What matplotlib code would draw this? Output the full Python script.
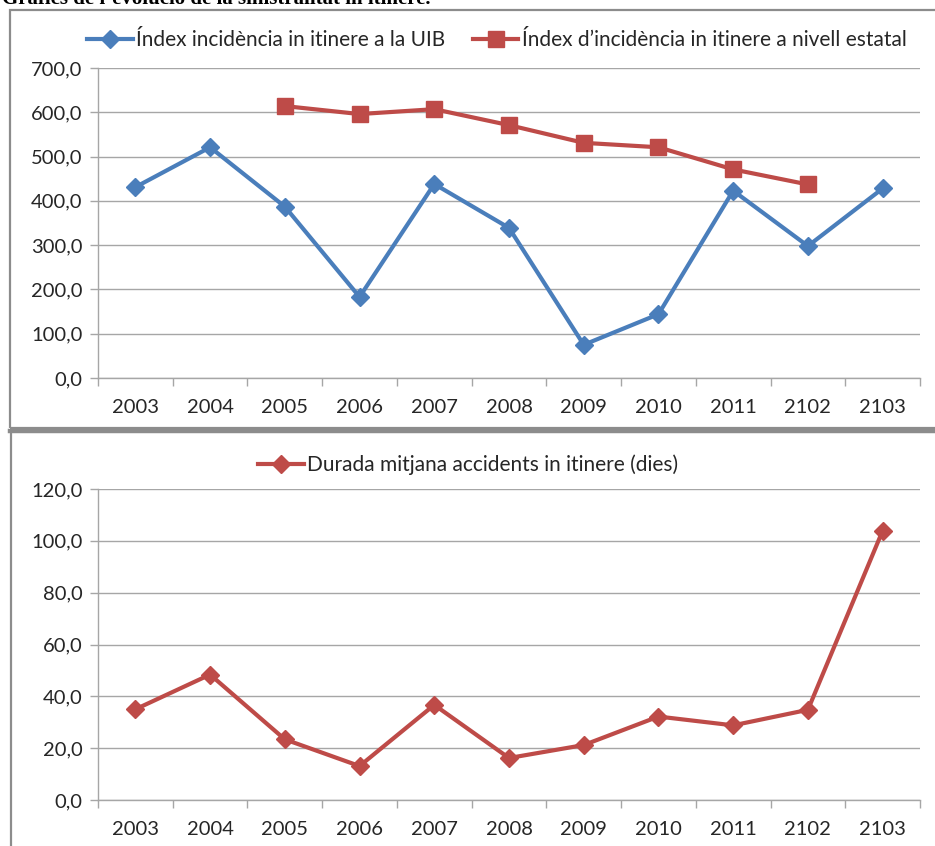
import matplotlib
matplotlib.use("Agg")
import matplotlib.pyplot as plt
from matplotlib.patches import Rectangle
from matplotlib.lines import Line2D
from matplotlib.ticker import FuncFormatter, FixedLocator

W, H = 935, 846

years = ['2003', '2004', '2005', '2006', '2007', '2008', '2009', '2010', '2011', '2102', '2103']
uib = [431, 521, 387, 183, 438, 339, 75, 144, 423, 298, 428]
estatal = [None, None, 614, 596, 607, 571, 531, 521, 471, 437, None]
durada = [35.0, 48.4, 23.4, 13.1, 36.7, 16.2, 21.2, 32.2, 28.8, 34.8, 103.9]

lbl_uib = 'Índex incidència in itinere a la UIB'
lbl_est = 'Índex d’incidència in itinere a nivell estatal'
lbl_dur = 'Durada mitjana accidents in itinere (dies)'

BLUE = '#4a7ebb'
RED = '#be4b48'
GRID = '#a6a6a6'
TXT = '#262626'
FS = 14.5

plt.rcParams['font.family'] = ['Lato', 'DejaVu Sans']


def px_axes(fig, left, top, right, bottom):
    return fig.add_axes([left / W, 1 - bottom / H, (right - left) / W, (bottom - top) / H])


def comma(v, pos):
    return f'{v:.1f}'.replace('.', ',')


def style(ax, ymax, step):
    n = len(years)
    ax.set_xlim(-0.5, n - 0.5)
    ax.set_ylim(0, ymax)
    ax.set_yticks([i * step for i in range(int(ymax / step) + 1)])
    ax.yaxis.set_major_formatter(FuncFormatter(comma))
    ax.set_xticks(range(n))
    ax.set_xticklabels(years)
    ax.xaxis.set_minor_locator(FixedLocator([i - 0.5 for i in range(n + 1)]))
    ax.tick_params(axis='x', which='major', length=0, pad=15, labelsize=FS, labelcolor=TXT)
    ax.tick_params(axis='x', which='minor', length=6, width=1, color=GRID, direction='out')
    ax.tick_params(axis='y', length=6, width=1, color=GRID, pad=5, labelsize=FS, labelcolor=TXT)
    for s in ['top', 'right']:
        ax.spines[s].set_visible(False)
    for s in ['left', 'bottom']:
        ax.spines[s].set_color(GRID)
        ax.spines[s].set_linewidth(1)
    ax.grid(axis='y', color=GRID, linewidth=1)
    ax.set_axisbelow(True)
    ax.patch.set_alpha(0)


fig = plt.figure(figsize=(W / 100, H / 100), dpi=100)

# frames like the pasted Excel charts
fig.patches.append(Rectangle((10 / W, 1 - 428 / H), 940 / W, 418 / H, transform=fig.transFigure,
                             fill=False, edgecolor='#8c8c8c', linewidth=1.6))
fig.lines.append(Line2D([10 / W, 1], [1 - 431 / H, 1 - 431 / H], transform=fig.transFigure,
                        color='#8c8c8c', linewidth=3.2))
fig.lines.append(Line2D([11 / W, 11 / W], [0, 1 - 433 / H], transform=fig.transFigure,
                        color='#8c8c8c', linewidth=1.6))

fig.text(2 / W, 1 - 4 / H, 'Gràfics de l’evolució de la sinistralitat in itinere.',
         family='Liberation Serif', weight='bold', fontsize=15, va='baseline', ha='left')

x = list(range(len(years)))

ax1 = px_axes(fig, 98, 68, 920, 378)
style(ax1, 700, 100)
ax1.plot(x, uib, color=BLUE, linewidth=3, marker='D', markersize=9.5, label=lbl_uib)
ex = [i for i, v in zip(x, estatal) if v is not None]
ey = [v for v in estatal if v is not None]
ax1.plot(ex, ey, color=RED, linewidth=3, marker='s', markersize=11, label=lbl_est)
ax1.legend(loc='center', bbox_to_anchor=(497 / W, 1 - 40 / H), bbox_transform=fig.transFigure,
           ncol=2, frameon=False, fontsize=15, handlelength=2.2, handletextpad=0.15,
           columnspacing=1.3, labelcolor=TXT)

ax2 = px_axes(fig, 98, 489, 920, 800)
style(ax2, 120, 20)
ax2.plot(x, durada, color=RED, linewidth=3, marker='D', markersize=9.5, label=lbl_dur)
ax2.legend(loc='center', bbox_to_anchor=(468 / W, 1 - 465 / H), bbox_transform=fig.transFigure,
           frameon=False, fontsize=15, handlelength=2.2, handletextpad=0.15, labelcolor=TXT)

fig.savefig('out.png', dpi=100)
